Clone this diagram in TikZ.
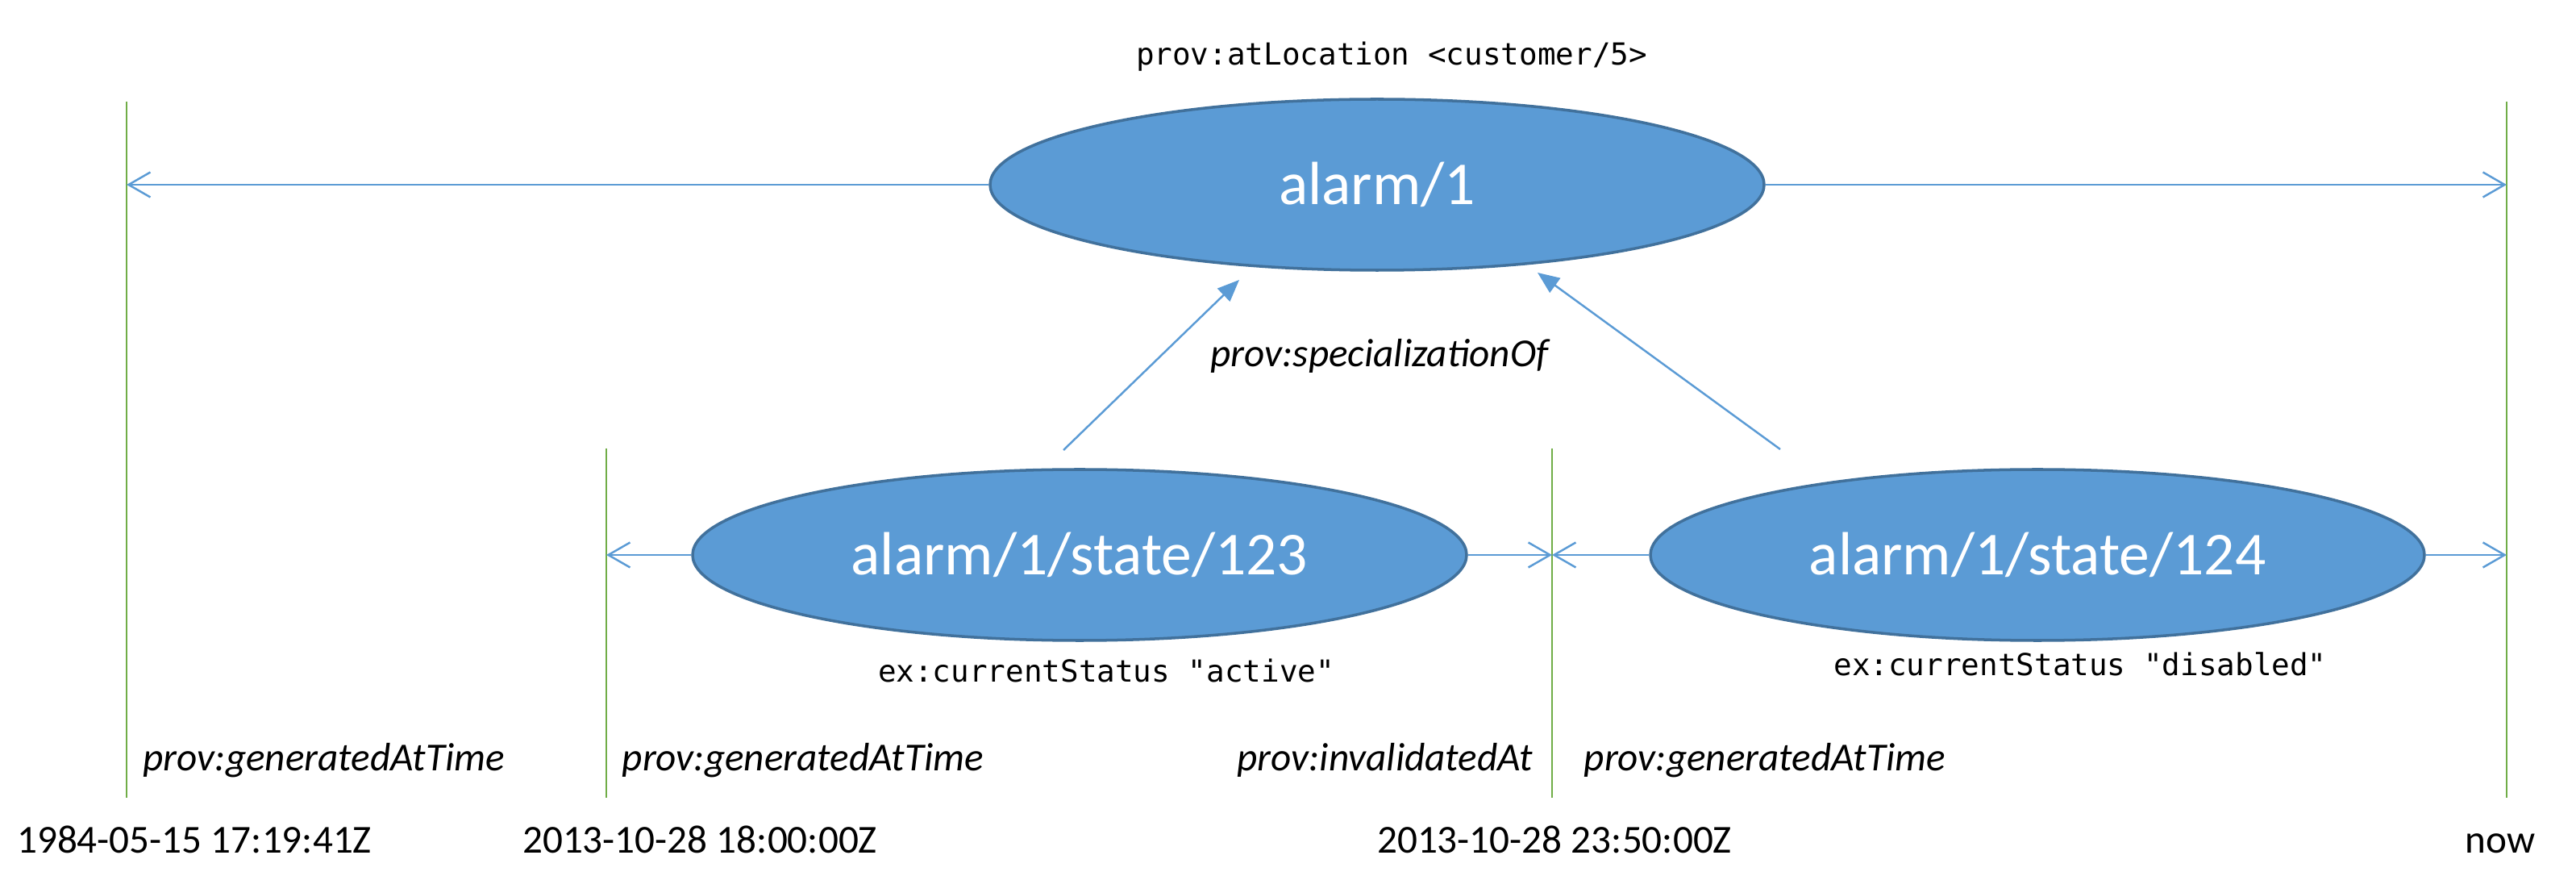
\documentclass[tikz,border=0pt]{standalone}
\usepackage{fontspec}
\setmainfont{Carlito}
\setmonofont{DejaVu Sans Mono}
\usetikzlibrary{shapes.geometric,arrows.meta}
\begin{document}
\begin{tikzpicture}[
	entity/.style={ellipse, fill=entityfill, draw=entityborder, line width=1pt, minimum width=9.6cm, minimum height=2.12cm, inner sep=0pt, text=white, font=\fontsize{21.5}{26}\selectfont},
	timeline/.style={timegreen, line width=0.6pt},
	span/.style={linkblue, line width=0.7pt, -{Straight Barb[length=2.7mm,width=3.1mm]}},
	spec/.style={linkblue, line width=0.7pt, -{Triangle[length=2.7mm,width=2.2mm]}},
	proptext/.style={inner sep=0pt, font=\fontsize{14}{17}\selectfont\itshape},
	datetext/.style={inner sep=0pt, anchor=base, font=\fontsize{14}{17}\selectfont},
	codetext/.style={inner sep=0pt, anchor=base, font=\ttfamily\fontsize{10.7}{13}\selectfont}]
	% Define custom colors
	\definecolor{entityfill}{RGB}{91, 155, 213}
	\definecolor{entityborder}{RGB}{65, 113, 156}
	\definecolor{linkblue}{RGB}{91, 155, 213}
	\definecolor{timegreen}{RGB}{112, 173, 71}
	\useasboundingbox (0, 0) rectangle (31.95, 10.85);
	% time lines
	\coordinate (T0top) at (1.57, 9.59);
	\coordinate (T0bot) at (1.57, 0.96);
	\coordinate (T1top) at (7.52, 5.29);
	\coordinate (T1bot) at (7.52, 0.96);
	\coordinate (T2top) at (19.25, 5.29);
	\coordinate (T2bot) at (19.25, 0.96);
	\coordinate (T3top) at (31.09, 9.59);
	\coordinate (T3bot) at (31.09, 0.96);
	\draw[timeline] (T0top) -- (T0bot);
	\draw[timeline] (T1top) -- (T1bot);
	\draw[timeline] (T2top) -- (T2bot);
	\draw[timeline] (T3top) -- (T3bot);
	% entities
	\node[entity] (alarm) at (17.08, 8.56) {alarm/1};
	\node[entity] (state123) at (13.39, 3.97) {alarm/1/state/123};
	\node[entity] (state124) at (25.27, 3.97) {alarm/1/state/124};
	% life spans
	\draw[span] (alarm.west) -- (alarm.west -| T0top);
	\draw[span] (alarm.east) -- (alarm.east -| T3top);
	\draw[span] (state123.west) -- (state123.west -| T1top);
	\draw[span] (state123.east) -- (state123.east -| T2top);
	\draw[span] (state124.west) -- (state124.west -| T2top);
	\draw[span] (state124.east) -- (state124.east -| T3top);
	% specialization arrows
	\coordinate (specAtail) at (13.19, 5.27);
	\coordinate (specAtip) at (15.37, 7.38);
	\coordinate (specBtail) at (22.08, 5.28);
	\coordinate (specBtip) at (19.07, 7.47);
	\draw[spec] (specAtail) -- (specAtip);
	\draw[spec] (specBtail) -- (specBtip);
	\node[proptext, anchor=base] (specof) at (17.11, 6.30) {prov:specializationOf};
	% attributes
	\node[codetext] (location) at (17.26, 10.04) {prov:atLocation <customer/5>};
	\node[codetext] (status123) at (13.72, 2.39) {ex:currentStatus "active"};
	\node[codetext] (status124) at (25.80, 2.47) {ex:currentStatus "disabled"};
	% time properties
	\node[proptext, anchor=base west] (gen0) at (1.77, 1.30) {prov:generatedAtTime};
	\node[proptext, anchor=base west] (gen1) at (7.71, 1.30) {prov:generatedAtTime};
	\node[proptext, anchor=base east] (inval1) at (19.02, 1.30) {prov:invalidatedAt};
	\node[proptext, anchor=base west] (gen2) at (19.64, 1.30) {prov:generatedAtTime};
	% dates
	\node[datetext] (date0) at (2.41, 0.28) {1984-05-15 17:19:41Z};
	\node[datetext] (date1) at (8.68, 0.28) {2013-10-28 18:00:00Z};
	\node[datetext] (date2) at (19.28, 0.28) {2013-10-28 23:50:00Z};
	\node[datetext] (date3) at (31.01, 0.28) {now};
\end{tikzpicture}
\end{document}
